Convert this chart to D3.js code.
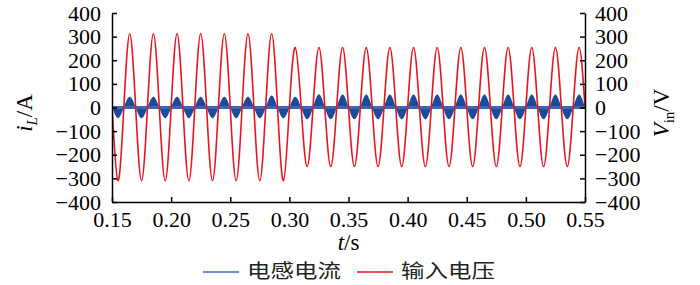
<!DOCTYPE html>
<html>
<head>
<meta charset="utf-8">
<script src="https://cdn.jsdelivr.net/npm/d3@7"></script>
<style>
  body { margin: 0; background: #fff; }
  svg { display: block; font-family: "Liberation Serif", "DejaVu Serif", serif; }
  .axis text { font-family: "Liberation Serif", serif; font-size: 22px; fill: #000; }
</style>
</head>
<body>
<div id="chart"></div>
<script>
// zero crossings and extrema of the 50 Hz waveforms
const zeroTimes = [0.15, 0.16, 0.17, 0.18, 0.19, 0.20, 0.21, 0.22, 0.23, 0.24,
  0.25, 0.26, 0.27, 0.28, 0.29, 0.30, 0.31, 0.32, 0.33, 0.34,
  0.35, 0.36, 0.37, 0.38, 0.39, 0.40, 0.41, 0.42, 0.43, 0.44,
  0.45, 0.46, 0.47, 0.48, 0.49, 0.50, 0.51, 0.52, 0.53, 0.54, 0.55];
const peakTimes = [0.145, 0.155, 0.165, 0.175, 0.185, 0.195, 0.205, 0.215, 0.225, 0.235,
  0.245, 0.255, 0.265, 0.275, 0.285, 0.295, 0.305, 0.315, 0.325, 0.335,
  0.345, 0.355, 0.365, 0.375, 0.385, 0.395, 0.405, 0.415, 0.425, 0.435,
  0.445, 0.455, 0.465, 0.475, 0.485, 0.495, 0.505, 0.515, 0.525, 0.535, 0.545];
// input voltage (V) at each extremum
const voltPeaks = [312, -310, 312, -310, 312, -310, 312, -310, 312, -310,
  312, -310, 312, -310, 312, -310, 254, -250, 254, -250,
  254, -250, 254, -250, 254, -250, 254, -250, 254, -250,
  254, -250, 254, -250, 254, -250, 254, -250, 254, -250, 254];
// inductor current (A) envelope at each extremum
const currentPeaks = [45, -45, 45, -45, 45, -45, 45, -45, 45, -45,
  45, -45, 45, -45, 51, -45, 46, -50, 56, -50,
  55, -50, 55, -50, 55, -50, 55, -50, 55, -50,
  55, -50, 55, -50, 55, -50, 55, -50, 55, -50, 55];

const xTicks = [0.15, 0.20, 0.25, 0.30, 0.35, 0.40, 0.45, 0.50, 0.55];
const yTicks = [-400, -300, -200, -100, 0, 100, 200, 300, 400];
const legendNames = ["电感电流", "输入电压"];

const width = 700;
const height = 285;
const blue = "#1d4b9b";
const blueLine = "#3a68b6";
const red = "#e8151e";

const svg = d3.select("#chart")
  .append("svg")
  .attr("width", width)
  .attr("height", height);

const x = d3.scaleLinear().domain([0.15, 0.55]).range([112, 585]);
const y = d3.scaleLinear().domain([-400, 400]).range([202, 13]);

// merge zero crossings and extrema into one ordered series
function buildSeries(peaks) {
  const pts = [];
  peakTimes.forEach((t, i) => {
    pts.push({ t: t, v: peaks[i] });
    if (i < zeroTimes.length) pts.push({ t: zeroTimes[i], v: 0 });
  });
  return pts.sort((a, b) => a.t - b.t);
}
const voltData = buildSeries(voltPeaks);
const currentData = buildSeries(currentPeaks);

svg.append("clipPath").attr("id", "clip")
  .append("rect")
  .attr("x", x(0.15)).attr("y", 0)
  .attr("width", x(0.55) - x(0.15)).attr("height", y(-400));

const plot = svg.append("g").attr("clip-path", "url(#clip)");

// current: dense switching ripple shows as a filled envelope
plot.append("path")
  .datum(currentData)
  .attr("fill", blue)
  .attr("d", d3.area().x(d => x(d.t)).y0(y(0)).y1(d => y(d.v)).curve(d3.curveNatural));

plot.append("line")
  .attr("x1", x(0.15)).attr("x2", x(0.55))
  .attr("y1", y(0)).attr("y2", y(0))
  .attr("stroke", blueLine)
  .attr("stroke-width", 3);

plot.append("path")
  .datum(voltData)
  .attr("fill", "none")
  .attr("stroke", red)
  .attr("stroke-width", 1.6)
  .attr("d", d3.line().x(d => x(d.t)).y(d => y(d.v)).curve(d3.curveNatural));

// axes
const xAxis = svg.append("g")
  .attr("class", "axis")
  .attr("transform", `translate(0,${y(-400)})`)
  .call(d3.axisBottom(x).tickValues(xTicks).tickFormat(d3.format(".2f"))
    .tickSizeInner(-5).tickSizeOuter(0).tickPadding(9));

const yAxisL = svg.append("g")
  .attr("class", "axis")
  .attr("transform", `translate(${x(0.15)},0)`)
  .call(d3.axisLeft(y).tickValues(yTicks).tickSizeInner(-5).tickSizeOuter(0).tickPadding(11));

const yAxisR = svg.append("g")
  .attr("class", "axis")
  .attr("transform", `translate(${x(0.55)},0)`)
  .call(d3.axisRight(y).tickValues(yTicks).tickSizeInner(-5).tickSizeOuter(0).tickPadding(10));

[xAxis, yAxisL, yAxisR].forEach(a => {
  a.attr("font-family", "Liberation Serif").attr("font-size", 22);
  a.selectAll("path, line").attr("stroke", "#000").attr("stroke-width", 1.5);
});

// axis titles
svg.append("text")
  .attr("x", x(0.35))
  .attr("y", 250)
  .attr("text-anchor", "middle")
  .style("font-size", "23px")
  .call(t => {
    t.append("tspan").style("font-style", "italic").text("t");
    t.append("tspan").text("/s");
  });

svg.append("text")
  .attr("transform", "translate(32,113) rotate(-90)")
  .attr("text-anchor", "middle")
  .style("font-size", "23px")
  .call(t => {
    t.append("tspan").style("font-style", "italic").text("i");
    t.append("tspan").style("font-style", "italic").style("font-size", "15px").attr("dy", 5).text("L");
    t.append("tspan").attr("dy", -5).text("/A");
  });

svg.append("text")
  .attr("transform", "translate(669,113) rotate(-90)")
  .attr("text-anchor", "middle")
  .style("font-size", "23px")
  .call(t => {
    t.append("tspan").style("font-style", "italic").text("V");
    t.append("tspan").style("font-size", "15px").attr("dy", 5).text("in");
    t.append("tspan").attr("dy", -5).text("/V");
  });

// legend
const legend = svg.append("g");
const legendX = [203, 357];
legendNames.forEach((name, i) => {
  legend.append("line")
    .attr("x1", legendX[i]).attr("x2", legendX[i] + 36)
    .attr("y1", 272).attr("y2", 272)
    .attr("stroke", i === 0 ? blueLine : red)
    .attr("stroke-width", 1.5);
  legend.append("text")
    .attr("x", legendX[i] + 44)
    .attr("y", 278)
    .attr("textLength", 94)
    .attr("lengthAdjust", "spacingAndGlyphs")
    .style("font-family", "'Noto Sans CJK SC', sans-serif")
    .style("font-size", "19px")
    .attr("fill", "#222")
    .text(name);
});
</script>
</body>
</html>
